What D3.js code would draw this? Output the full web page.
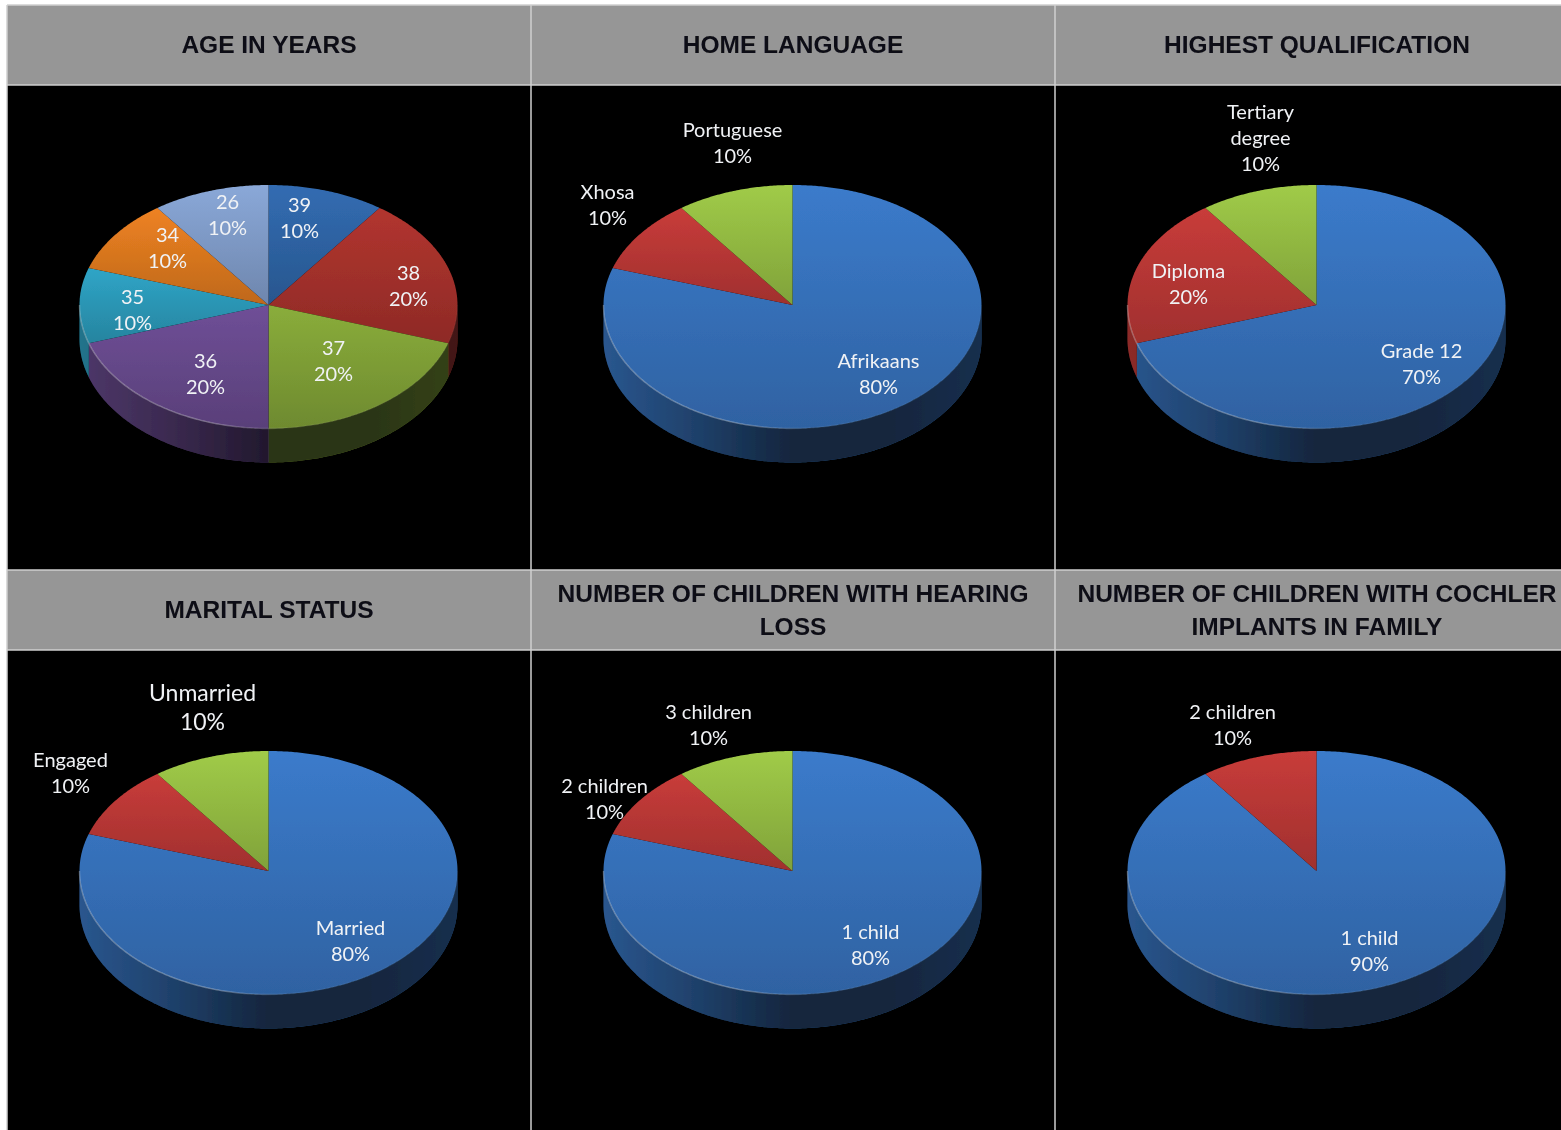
<!DOCTYPE html>
<html>
<head>
<meta charset="utf-8">
<script src="https://cdn.jsdelivr.net/npm/d3@7"></script>
<style>
  html, body { margin: 0; padding: 0; background: #fff; overflow: hidden; }
  svg { display: block; }
</style>
</head>
<body>
<div id="chart"></div>
<script>
const width = 1561;
const height = 1130;

// values
const ageCats = ["39", "38", "37", "36", "35", "34", "26"];
const ageVals = [10, 20, 20, 20, 10, 10, 10];
const languageCats = ["Afrikaans", "Xhosa", "Portuguese"];
const languageVals = [80, 10, 10];
const qualificationCats = ["Grade 12", "Diploma", "Tertiary\ndegree"];
const qualificationVals = [70, 20, 10];
const maritalCats = ["Married", "Engaged", "Unmarried"];
const maritalVals = [80, 10, 10];
const hearingCats = ["1 child", "2 children", "3 children"];
const hearingVals = [80, 10, 10];
const implantCats = ["1 child", "2 children"];
const implantVals = [90, 10];

const titles = [
  ["AGE IN YEARS"],
  ["HOME LANGUAGE"],
  ["HIGHEST QUALIFICATION"],
  ["MARITAL STATUS"],
  ["NUMBER OF CHILDREN WITH HEARING", "LOSS"],
  ["NUMBER OF CHILDREN WITH COCHLER", "IMPLANTS IN FAMILY"]
];

// colours
const agePalette = ["#326cb2", "#b2352f", "#8aad3b", "#6f4f97", "#2fa5c7", "#ee8222", "#8aa8d8"];
const mainPalette = ["#3b7bcb", "#c83c3a", "#a0cb48"];

// where each label's first line sits, relative to the pie centre
const ageLabelPos = [[31, -100], [140, -32], [65, 43], [-63, 56], [-136, -8], [-101, -70], [-41, -103]];
const languageLabelPos = [[86, 56], [-185, -113], [-60, -175]];
const qualificationLabelPos = [[105, 46], [-128, -34], [-56, -193]];
const maritalLabelPos = [[82, 57], [-198, -111], [-66, -177]];
const hearingLabelPos = [[78, 61], [-188, -85], [-84, -159]];
const implantLabelPos = [[53, 67], [-84, -159]];

const charts = [
  {cats: ageCats, vals: ageVals, pal: agePalette, pos: ageLabelPos},
  {cats: languageCats, vals: languageVals, pal: mainPalette, pos: languageLabelPos},
  {cats: qualificationCats, vals: qualificationVals, pal: mainPalette, pos: qualificationLabelPos},
  {cats: maritalCats, vals: maritalVals, pal: mainPalette, pos: maritalLabelPos, big: "Unmarried"},
  {cats: hearingCats, vals: hearingVals, pal: mainPalette, pos: hearingLabelPos},
  {cats: implantCats, vals: implantVals, pal: mainPalette, pos: implantLabelPos}
];

const rx = 189;
const ryBack = 120;
const ryFront = 123.5;
const depth = 34;
const headerH = 80;
const rowTop = [5, 570];
const rowBottom = [570, 1140];
const rowCentre = [305, 871];

const colX = d3.scaleBand().domain([0, 1, 2]).range([7, 7 + 524 * 3]);

const svg = d3.select("#chart")
  .append("svg")
  .attr("width", width)
  .attr("height", height);

const defs = svg.append("defs");

const soft = defs.append("filter").attr("id", "soft")
  .attr("x", "-5%").attr("y", "-5%").attr("width", "110%").attr("height", "110%");
soft.append("feGaussianBlur").attr("stdDeviation", 0.7);

const softText = defs.append("filter").attr("id", "softText")
  .attr("x", "-5%").attr("y", "-20%").attr("width", "110%").attr("height", "140%");
softText.append("feGaussianBlur").attr("stdDeviation", 0.35);

// black overlay on the side wall, same for every pie
const wallShade = defs.append("linearGradient").attr("id", "wallShade")
  .attr("gradientUnits", "userSpaceOnUse")
  .attr("x1", -rx).attr("x2", rx).attr("y1", 0).attr("y2", 0);
[[0, 0.3], [0.25, 0.48], [0.5, 0.7], [0.75, 0.7], [1, 0.62]].forEach(s => {
  wallShade.append("stop").attr("offset", s[0]).attr("stop-color", "#000").attr("stop-opacity", s[1]);
});

const rimShade = defs.append("linearGradient").attr("id", "rimShade")
  .attr("gradientUnits", "userSpaceOnUse")
  .attr("x1", -rx).attr("x2", rx).attr("y1", 0).attr("y2", 0);
[[0, 0.3], [0.35, 0.3], [0.55, 0.08], [1, 0.03]].forEach(s => {
  rimShade.append("stop").attr("offset", s[0]).attr("stop-color", "#fff").attr("stop-opacity", s[1]);
});

function sliceGradient(id, color) {
  const g = defs.append("linearGradient").attr("id", id)
    .attr("x1", 0).attr("x2", 0).attr("y1", 0).attr("y2", 1);
  g.append("stop").attr("offset", 0).attr("stop-color", color);
  g.append("stop").attr("offset", 1).attr("stop-color", d3.interpolateRgb(color, "#000")(0.2));
}

const pie = d3.pie().sort(null).value(d => d);
const halfPi = Math.PI / 2;

const edgeX = a => rx * Math.sin(a);
// the tilt makes the front half of the ellipse a bit deeper than the back
const edgeY = a => -(Math.cos(a) > 0 ? ryBack : ryFront) * Math.cos(a);
const line = d3.line().x(p => p[0]).y(p => p[1]);

const sweep = (a0, a1) => d3.range(a0, a1, 0.01).concat([a1]);

// part of a slice's outer edge that faces the viewer
function frontAngles(d) {
  const a0 = Math.max(d.startAngle, halfPi);
  const a1 = Math.min(d.endAngle, 3 * halfPi);
  return a0 < a1 ? sweep(a0, a1) : [];
}

function drawCell(chart, i) {
  const col = i % 3;
  const row = Math.floor(i / 3);
  const x0 = colX(col);
  const w = colX.bandwidth();
  const top = rowTop[row];
  const cx = x0 + w / 2 - 0.5;
  const cy = rowCentre[row];

  svg.append("rect")
    .attr("x", x0).attr("y", top)
    .attr("width", w).attr("height", headerH)
    .attr("fill", "#969696");
  svg.append("rect")
    .attr("x", x0).attr("y", top + headerH)
    .attr("width", w).attr("height", rowBottom[row] - top - headerH)
    .attr("fill", "#000");

  // header text
  const title = svg.append("g").attr("filter", "url(#softText)");
  const lines = titles[i];
  lines.forEach((t, k) => {
    title.append("text")
      .text(t)
      .attr("x", x0 + w / 2)
      .attr("y", top + headerH / 2 + 8 + (k - (lines.length - 1) / 2) * 33)
      .attr("text-anchor", "middle")
      .attr("font-family", "'Liberation Sans', Arial, sans-serif")
      .attr("font-weight", "bold")
      .attr("font-size", 24.5)
      .attr("fill", "#0b0b14");
  });

  const g = svg.append("g").attr("transform", "translate(" + cx + "," + cy + ")");
  const pieG = g.append("g").attr("filter", "url(#soft)");
  const slices = pie(chart.vals);

  // side walls first
  slices.forEach((d, k) => {
    const angles = frontAngles(d);
    if (!angles.length) return;
    const upper = angles.map(a => [edgeX(a), edgeY(a)]);
    const lower = angles.slice().reverse().map(a => [edgeX(a), edgeY(a) + depth]);
    const wall = line(upper.concat(lower)) + "Z";
    pieG.append("path").attr("d", wall).attr("fill", chart.pal[k]);
    pieG.append("path").attr("d", wall).attr("fill", "url(#wallShade)");
  });

  // top face
  slices.forEach((d, k) => {
    const id = "slice" + i + "_" + k;
    sliceGradient(id, chart.pal[k]);
    const outline = [[0, 0]].concat(sweep(d.startAngle, d.endAngle).map(a => [edgeX(a), edgeY(a)]));
    pieG.append("path")
      .attr("d", line(outline) + "Z")
      .attr("fill", "url(#" + id + ")");
  });

  // light rim on the front edge
  slices.forEach(d => {
    const angles = frontAngles(d);
    if (!angles.length) return;
    pieG.append("path")
      .attr("d", line(angles.map(a => [edgeX(a), edgeY(a)])))
      .attr("fill", "none")
      .attr("stroke", "url(#rimShade)")
      .attr("stroke-width", 1.4);
  });

  // labels
  const labels = g.append("g").attr("filter", "url(#softText)");
  chart.cats.forEach((c, k) => {
    const big = c === chart.big;
    const size = big ? 23 : 20;
    const gap = big ? 29 : 26;
    const rows = c.split("\n").concat([chart.vals[k] + "%"]);
    rows.forEach((t, n) => {
      labels.append("text")
        .text(t)
        .attr("x", chart.pos[k][0])
        .attr("y", chart.pos[k][1] + n * gap + 7)
        .attr("text-anchor", "middle")
        .attr("font-family", "Lato, 'Open Sans', sans-serif")
        .attr("font-size", size)
        .attr("fill", "#f0f2f5");
    });
  });
}

charts.forEach(drawCell);

// table grid
const grid = svg.append("g").attr("stroke", "#cfcfcf").attr("stroke-width", 1.5);
[0, 1, 2].forEach(c => {
  grid.append("line").attr("x1", colX(c)).attr("x2", colX(c)).attr("y1", 5).attr("y2", height);
});
[5, 85, 570, 650].forEach(y => {
  grid.append("line").attr("x1", 7).attr("x2", width).attr("y1", y).attr("y2", y);
});
</script>
</body>
</html>
